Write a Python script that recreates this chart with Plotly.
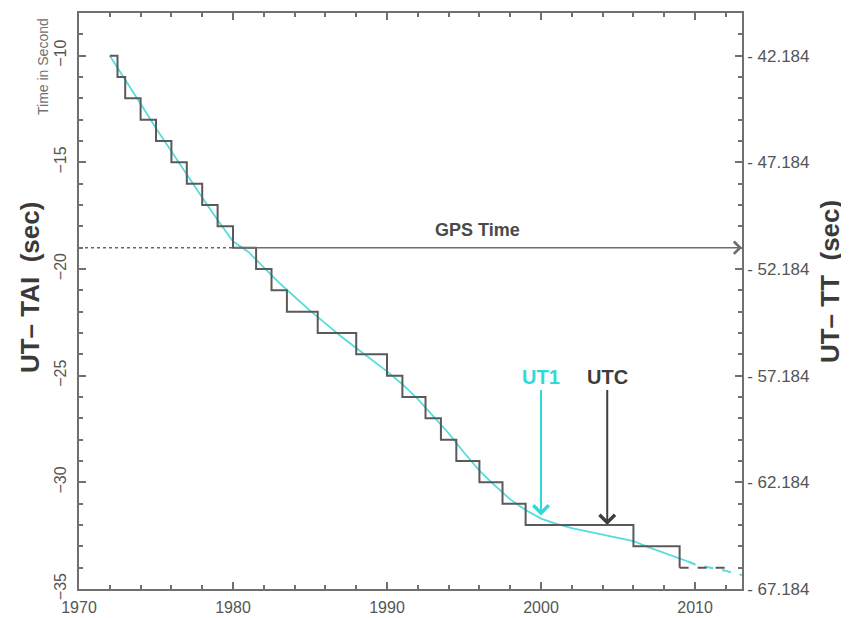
import plotly.graph_objects as go

# ---------------- data ----------------
# UTC steps (UT - TAI in seconds), year of each step
utc_step_years = [1972.0, 1972.5, 1973.0, 1974.0, 1975.0, 1976.0, 1977.0, 1978.0,
                  1979.0, 1980.0, 1981.5, 1982.5, 1983.5, 1985.5, 1988.0, 1990.0,
                  1991.0, 1992.5, 1993.5, 1994.5, 1996.0, 1997.5, 1999.0, 2006.0, 2009.0]
utc_step_values = [-10, -11, -12, -13, -14, -15, -16, -17, -18, -19, -20, -21, -22,
                   -23, -24, -25, -26, -27, -28, -29, -30, -31, -32, -33, -34]
# predicted (dashed) continuation of UTC
utc_pred_years = [2009.0, 2012.0]
utc_pred_values = [-34, -34]

# UT1 - TAI (observed)
ut1_years = [1972.0, 1973.0, 1974.0, 1975.0, 1976.0, 1977.0, 1978.0, 1979.0, 1980.0,
             1981.0, 1982.0, 1983.0, 1984.0, 1985.0, 1986.0, 1987.0, 1988.0, 1989.0,
             1990.0, 1991.0, 1992.0, 1993.0, 1994.0, 1995.0, 1996.0, 1997.0, 1998.0,
             1999.0, 2000.0, 2001.0, 2002.0, 2003.0, 2004.0, 2005.0, 2006.0, 2007.0,
             2008.0, 2009.0, 2009.5]
ut1_values = [-10.0, -11.1, -12.25, -13.4, -14.5, -15.6, -16.65, -17.7, -18.7,
              -19.2, -19.95, -20.65, -21.3, -21.95, -22.55, -23.15, -23.7, -24.25,
              -24.8, -25.4, -26.1, -26.9, -27.7, -28.6, -29.45, -30.15, -30.8,
              -31.3, -31.7, -31.95, -32.15, -32.3, -32.45, -32.6, -32.75, -33.05,
              -33.3, -33.55, -33.7]
# UT1 - TAI (predicted, dashed)
ut1_pred_years = [2009.5, 2010.0, 2011.0, 2012.0, 2013.05]
ut1_pred_values = [-33.7, -33.85, -34.0, -34.15, -34.35]

# GPS time: constant offset from 1980
gps_start_year = 1980.0
gps_level = -19
gps_pre_years = [1970.0, 1980.0]

# arrows / labels
ut1_arrow_year = 2000.0
ut1_arrow_tail, ut1_arrow_tip = -25.6, -31.55
utc_arrow_year = 2004.3
utc_arrow_tail, utc_arrow_tip = -25.6, -32.0
label_level = -25.05
gps_label_year, gps_label_level = 1995.9, -18.15

x_range = [1970, 2013.05]
y_range = [-35, -8]
tt_offset = -32.184
left_ticks = [-35, -30, -25, -20, -15, -10]
right_ticks = [v + tt_offset for v in left_ticks]
right_ticktext = ["- %.3f" % abs(v) for v in right_ticks]
x_ticks = [1970, 1980, 1990, 2000, 2010]

# ---------------- styles ----------------
FONT = "Liberation Sans, Arial, sans-serif"
GRAY = "#5a5a5a"
AXC = "#707070"
CYAN = "#55dcdc"
CYAN_TXT = "#2fd9d9"

fig = go.Figure()

fig.add_trace(go.Scatter(x=ut1_years, y=ut1_values, mode="lines",
                         line=dict(color=CYAN, width=1.8), hoverinfo="skip"))
fig.add_trace(go.Scatter(x=ut1_pred_years, y=ut1_pred_values, mode="lines",
                         line=dict(color=CYAN, width=2, dash="dash"), hoverinfo="skip"))
fig.add_trace(go.Scatter(x=utc_step_years, y=utc_step_values, mode="lines",
                         line=dict(color=GRAY, width=2, shape="hv"), hoverinfo="skip"))
fig.add_trace(go.Scatter(x=utc_pred_years, y=utc_pred_values, mode="lines",
                         line=dict(color="#5e5656", width=2, dash="dash"), hoverinfo="skip"))
fig.add_trace(go.Scatter(x=gps_pre_years, y=[gps_level] * 2, mode="lines",
                         line=dict(color="#666666", width=1.5, dash="dot"), hoverinfo="skip"))
# dummy trace on right axis so it is rendered
fig.add_trace(go.Scatter(x=[None], y=[None], yaxis="y2", mode="lines", hoverinfo="skip"))

annotations = [
    # GPS arrow
    dict(x=x_range[1], y=gps_level, ax=gps_start_year, ay=gps_level, xref="x", yref="y",
         axref="x", ayref="y", showarrow=True, arrowhead=4, arrowsize=1.6,
         arrowwidth=1.5, arrowcolor="#6e6e6e", text=""),
    dict(x=gps_label_year, y=gps_label_level, xref="x", yref="y", showarrow=False,
         text="<b>GPS Time</b>", font=dict(family=FONT, size=18, color="#4a4a4a")),
    # UT1 arrow
    dict(x=ut1_arrow_year, y=ut1_arrow_tip, ax=ut1_arrow_year, ay=ut1_arrow_tail,
         xref="x", yref="y", axref="x", ayref="y", showarrow=True, arrowhead=4,
         arrowsize=1.5, arrowwidth=2, arrowcolor=CYAN_TXT, text=""),
    dict(x=ut1_arrow_year, y=label_level, xref="x", yref="y", showarrow=False,
         text="<b>UT1</b>", font=dict(family=FONT, size=20, color=CYAN_TXT)),
    # UTC arrow
    dict(x=utc_arrow_year, y=utc_arrow_tip, ax=utc_arrow_year, ay=utc_arrow_tail,
         xref="x", yref="y", axref="x", ayref="y", showarrow=True, arrowhead=4,
         arrowsize=1.5, arrowwidth=2, arrowcolor="#3e3e3e", text=""),
    dict(x=utc_arrow_year, y=label_level, xref="x", yref="y", showarrow=False,
         text="<b>UTC</b>", font=dict(family=FONT, size=20, color="#3c3c3c")),
    # axis titles
    dict(x=-0.0543, y=0.908, xref="paper", yref="paper", showarrow=False, textangle=-90,
         xanchor="center", yanchor="middle",
         text="Time in Second", font=dict(family=FONT, size=14, color="#707070")),
    dict(x=-0.0739, y=0.5225, xref="paper", yref="paper", showarrow=False, textangle=-90,
         xanchor="center", yanchor="middle",
         text="<b>UT\u2013 TAI\u00a0\u00a0(sec)</b>", font=dict(family=FONT, size=26, color="#3a3a3a")),
    dict(x=1.1327, y=0.5346, xref="paper", yref="paper", showarrow=False, textangle=-90,
         xanchor="center", yanchor="middle",
         text="<b>UT\u2013 TT\u00a0\u00a0(sec)</b>", font=dict(family=FONT, size=26, color="#3a3a3a")),
]

fig.update_layout(
    width=849, height=618,
    # page body has an 8px default margin; compensate so the plot area sits at x 79-742, y 11-589
    margin=dict(l=71, r=115, t=3, b=37),
    paper_bgcolor="white", plot_bgcolor="white",
    showlegend=False,
    annotations=annotations,
    xaxis=dict(range=x_range, tickvals=x_ticks, ticks="inside", ticklen=7, tickwidth=1.5,
               tickcolor=AXC, showline=True, linecolor=AXC, linewidth=1.5, mirror="ticks",
               showgrid=False, zeroline=False, ticklabelstandoff=3,
               minor=dict(ticks="inside", tick0=1970, dtick=2, ticklen=4, tickcolor=AXC,
                          tickwidth=1.5, showgrid=False),
               tickfont=dict(family=FONT, size=16, color="#555555")),
    yaxis=dict(range=y_range, tickvals=left_ticks, ticks="inside", ticklen=7, tickwidth=1.5,
               tickcolor=AXC, showline=True, linecolor=AXC, linewidth=1.5, mirror=False,
               showgrid=False, zeroline=False, tickangle=-90, ticklabelstandoff=5,
               minor=dict(ticks="inside", tick0=-35, dtick=1, ticklen=4, tickcolor=AXC,
                          tickwidth=1.5, showgrid=False),
               tickfont=dict(family=FONT, size=16, color="#555555")),
    yaxis2=dict(range=[y_range[0] + tt_offset, y_range[1] + tt_offset], overlaying="y",
                side="right", tickvals=right_ticks, ticktext=right_ticktext,
                ticks="inside", ticklen=7, tickwidth=1.5, tickcolor=AXC,
                showline=True, linecolor=AXC, linewidth=1.5, showgrid=False, zeroline=False,
                minor=dict(ticks="inside", tick0=right_ticks[0], dtick=1, ticklen=4,
                           tickcolor=AXC, tickwidth=1.5, showgrid=False),
                tickfont=dict(family=FONT, size=17, color="#555555")),
)

fig.write_html("out.html")
